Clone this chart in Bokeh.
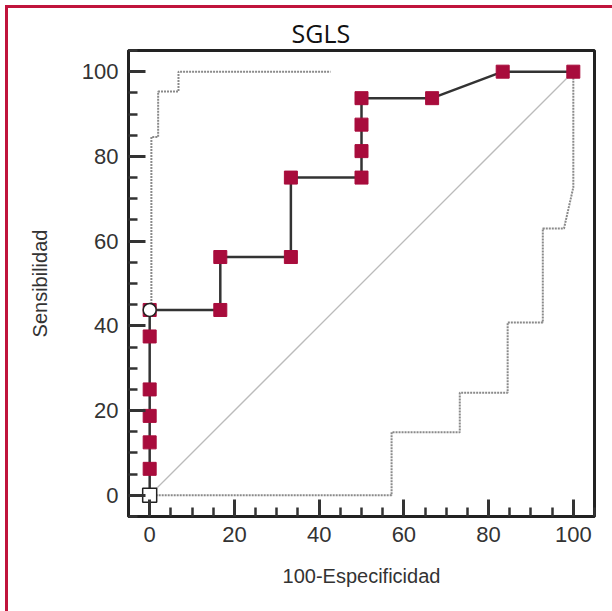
from bokeh.plotting import figure
from bokeh.models import Range1d, FixedTicker
from bokeh.embed import file_html
from bokeh.resources import INLINE

# ROC curve data (100-Especificidad, Sensibilidad)
roc_x = [0, 0, 0, 0, 0, 0, 0, 16.67, 16.67, 33.33, 33.33, 50, 50, 50, 50, 66.67, 83.33, 100]
roc_y = [0, 6.25, 12.5, 18.75, 25, 37.5, 43.75, 43.75, 56.25, 56.25, 75, 75, 81.25, 87.5, 93.75, 93.75, 100, 100]

# confidence bounds
upper_x = [0.4, 0.4, 2.0, 2.0, 6.8, 6.8, 42.7]
upper_y = [43.75, 84.6, 84.6, 95.3, 95.3, 100, 100]
lower_x = [0, 57.1, 57.1, 73.2, 73.2, 84.5, 84.5, 92.8, 92.8, 97.8, 100, 100]
lower_y = [0, 0, 14.9, 14.9, 24.2, 24.2, 40.8, 40.8, 63.0, 63.0, 72.7, 100]

diag_x = [0, 100]
diag_y = [0, 100]

origin_x = [0]
origin_y = [0]
cut_x = [0]
cut_y = [43.75]

ticks = [0, 20, 40, 60, 80, 100]
title_text = "SGLS"
x_label = "100-Especificidad"
y_label = "Sensibilidad"

RED = "#a80c3c"

p = figure(frame_width=466, frame_height=466,
           min_border_left=128, min_border_top=50, min_border_right=18, min_border_bottom=95,
           x_range=Range1d(-5, 105), y_range=Range1d(-5, 105),
           output_backend="svg", toolbar_location=None)
p.styles = {"box-shadow": "inset 5px 5px 0 0 #ffffff, inset 8px 8px 0 0 #c0143c"}

p.background_fill_color = "white"
p.border_fill_color = None
p.outline_line_color = "#222222"
p.outline_line_width = 3
p.grid.visible = False

p.title.text = title_text
p.title.align = "left"
p.title.offset = 163
p.title.text_font = "Open Sans"
p.title.text_font_size = "25px"
p.title.text_font_style = "normal"
p.title.text_color = "#111111"
p.title.standoff = 2

for ax in (p.xaxis[0], p.yaxis[0]):
    ax.ticker = FixedTicker(ticks=ticks, minor_ticks=[v for v in range(-5, 106, 5) if v % 20 != 0])
    ax.axis_line_color = "#222222"
    ax.axis_line_width = 3
    ax.major_tick_line_color = "#333333"
    ax.major_tick_line_width = 3
    ax.major_tick_in = 17
    ax.major_tick_out = 0
    ax.minor_tick_line_color = "#333333"
    ax.minor_tick_line_width = 2.5
    ax.minor_tick_in = 9
    ax.minor_tick_out = 0
    ax.major_label_text_font = "Liberation Sans"
    ax.major_label_text_font_size = "22px"
    ax.major_label_text_color = "#333333"
    ax.major_label_standoff = 10
    ax.axis_label_text_font = "Liberation Sans"
    ax.axis_label_text_font_size = "20px"
    ax.axis_label_text_font_style = "normal"
    ax.axis_label_text_color = "#333333"

p.xaxis.axis_label = x_label
p.yaxis.axis_label = y_label
p.xaxis.axis_label_standoff = 20
p.yaxis.axis_label_standoff = 28

# diagonal reference
p.line(diag_x, diag_y, line_color="#bbbbbb", line_width=1.3)
# confidence bounds
p.line(upper_x, upper_y, line_color="#8a8a8a", line_width=2, line_dash="2 1")
p.line(lower_x, lower_y, line_color="#8a8a8a", line_width=2, line_dash="2 1")
# ROC curve
p.line(roc_x, roc_y, line_color="#333333", line_width=2.5)
p.scatter(roc_x[1:], roc_y[1:], marker="square", size=13, fill_color=RED, line_color=RED)
p.scatter(origin_x, origin_y, marker="square", size=14, fill_color="white", line_color="#222222", line_width=1.5)
p.scatter(cut_x, cut_y, marker="circle", size=13, fill_color="white", line_color="#222222", line_width=1.5)

open("out.html", "w").write(file_html(p, INLINE))
